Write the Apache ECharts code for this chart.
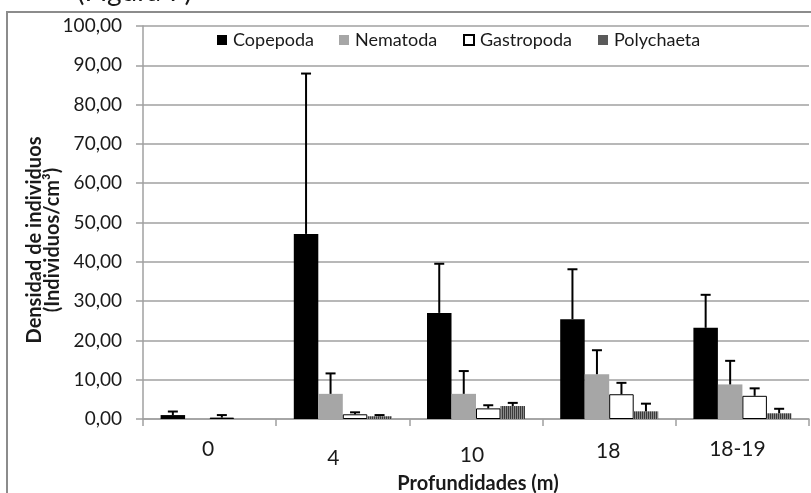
<!DOCTYPE html>
<html>
<head>
<meta charset="utf-8">
<script src="https://cdn.jsdelivr.net/npm/echarts@6/dist/echarts.min.js"></script>
<style>
html,body{margin:0;padding:0;background:#fff;overflow:hidden;}
#chart{width:811px;height:493px;}
</style>
</head>
<body>
<div id="chart"></div>
<script>
// ---- data ----
const categories = ['0', '4', '10', '18', '18-19'];
const seriesNames = ['Copepoda', 'Nematoda', 'Gastropoda', 'Polychaeta'];
const copepoda   = [1.0, 47.1, 27.0, 25.4, 23.2];
const copepodaSD = [0.9, 40.8, 12.5, 12.7, 8.4];
const nematoda   = [0.2, 6.4, 6.4, 11.4, 8.8];
const nematodaSD = [0.0, 5.2, 5.8, 6.1, 6.0];
const gastropoda   = [0.35, 1.2, 2.7, 6.3, 5.9];
const gastropodaSD = [0.65, 0.5, 0.8, 2.9, 1.9];
const polychaeta   = [0.0, 0.7, 3.3, 1.95, 1.45];
const polychaetaSD = [0.0, 0.3, 0.8, 1.95, 1.15];
const yTicks = [0, 10, 20, 30, 40, 50, 60, 70, 80, 90, 100];

const means = [copepoda, nematoda, gastropoda, polychaeta];
const sds = [copepodaSD, nematodaSD, gastropodaSD, polychaetaSD];

// ---- styles ----
const FONT = 'Lato';
const BAR_W = 24.5;
const TXT = '#1a1a1a';

// striped pattern for Polychaeta
const pc = document.createElement('canvas');
pc.width = 2; pc.height = 2;
const pctx = pc.getContext('2d');
pctx.fillStyle = '#8a8a8a'; pctx.fillRect(0, 0, 2, 2);
pctx.fillStyle = '#3a3a3a'; pctx.fillRect(0, 0, 1, 2);

const barStyles = [
  { color: '#000000' },
  { color: '#a6a6a6' },
  { color: '#ffffff', borderColor: '#000000', borderWidth: 1 },
  { color: { image: pc, repeat: 'repeat' } }
];
const legendColors = ['#000000', '#a6a6a6', '#ffffff', '#5a5a5a'];
const legendLefts = [217, 339, 463, 598];

const chart = echarts.init(document.getElementById('chart'), null, { renderer: 'canvas' });

const series = [];
seriesNames.forEach((name, k) => {
  series.push({
    name: name,
    type: 'bar',
    barWidth: BAR_W,
    barGap: '0%',
    itemStyle: barStyles[k],
    data: means[k],
    z: 2
  });
});
seriesNames.forEach((name, k) => {
  series.push({
    type: 'custom',
    name: name + ' err',
    z: 3,
    silent: true,
    data: means[k].map((m, i) => [i, m, m + sds[k][i]]),
    renderItem: function (params, api) {
      if (api.value(2) <= api.value(1)) return null;
      const lo = api.coord([api.value(0), api.value(1)]);
      const hi = api.coord([api.value(0), api.value(2)]);
      const cx = lo[0] + (k - 1.5) * BAR_W;
      const cap = 5;
      const st = { stroke: '#000', lineWidth: 2 };
      return {
        type: 'group',
        children: [
          { type: 'line', shape: { x1: cx, y1: lo[1], x2: cx, y2: hi[1] }, style: st },
          { type: 'line', shape: { x1: cx - cap, y1: hi[1], x2: cx + cap, y2: hi[1] }, style: st }
        ]
      };
    }
  });
});

const XL = 21;
const option = {
  animation: false,
  backgroundColor: '#ffffff',
  textStyle: { fontFamily: FONT },
  grid: { left: 143, right: 2, top: 26, bottom: 74, containLabel: false, outerBoundsMode: 'none' },
  legend: seriesNames.map((name, k) => ({
    left: legendLefts[k],
    top: 31,
    padding: 0,
    itemWidth: 10,
    itemHeight: 10,
    itemGap: 5,
    icon: 'rect',
    selectedMode: false,
    textStyle: { fontFamily: FONT, fontSize: 18, color: TXT, padding: [0, 0, 0, 1] },
    data: [{ name: name, itemStyle: { color: legendColors[k] } }]
  })),
  xAxis: {
    type: 'category',
    data: categories,
    axisLine: { lineStyle: { color: '#a0a0a0', width: 1.5 } },
    axisTick: { show: true, length: 7, lineStyle: { color: '#a0a0a0', width: 1.5 } },
    axisLabel: {
      margin: 20,
      interval: 0,
      fontFamily: FONT,
      fontSize: XL,
      color: TXT,
      formatter: function (v, i) { return '{l' + i + '|' + v + '}'; },
      rich: {
        l0: { fontFamily: FONT, fontSize: XL, color: TXT, padding: [0, 3, 0, 0] },
        l1: { fontFamily: FONT, fontSize: XL, color: TXT, padding: [9, 19, 0, 0] },
        l2: { fontFamily: FONT, fontSize: XL, color: TXT, padding: [6, 8, 0, 0] },
        l3: { fontFamily: FONT, fontSize: XL, color: TXT, padding: [2, 2, 0, 0] },
        l4: { fontFamily: FONT, fontSize: XL, color: TXT, padding: [0, 10, 0, 0] }
      }
    },
    name: 'Profundidades (m)',
    nameLocation: 'middle',
    nameGap: 47,
    nameTextStyle: { fontFamily: FONT, fontSize: 20, fontWeight: 'bold', color: TXT, padding: [0, 0, 0, 4] }
  },
  yAxis: {
    type: 'value',
    min: yTicks[0],
    max: yTicks[yTicks.length - 1],
    interval: yTicks[1] - yTicks[0],
    axisLine: { show: true, lineStyle: { color: '#a0a0a0', width: 1.5 } },
    axisTick: { show: true, length: 7, lineStyle: { color: '#a0a0a0', width: 1.5 } },
    splitLine: { show: true, lineStyle: { color: '#a0a0a0', width: 1.5 } },
    axisLabel: {
      margin: 21,
      fontFamily: FONT,
      fontSize: 19,
      color: TXT,
      formatter: function (v) { return v.toFixed(2).replace('.', ','); }
    }
  },
  graphic: [
    {
      type: 'rect',
      z: -1,
      shape: { x: 7, y: 12, width: 900, height: 600 },
      style: { fill: 'none', stroke: '#8c8c8c', lineWidth: 2 }
    },
    {
      type: 'text',
      x: 77, y: 6,
      z: -2,
      style: {
        text: '(Figura 7)',
        font: '28px ' + FONT,
        fill: TXT,
        textAlign: 'left',
        verticalAlign: 'bottom'
      }
    },
    {
      type: 'text',
      x: 44, y: 240,
      rotation: Math.PI / 2,
      style: {
        text: 'Densidad de individuos\n(Individuos/cm³)',
        font: 'bold 20px ' + FONT,
        lineHeight: 18,
        fill: TXT,
        textAlign: 'center',
        verticalAlign: 'middle'
      }
    }
  ],
  series: series
};

chart.setOption(option);
</script>
</body>
</html>
